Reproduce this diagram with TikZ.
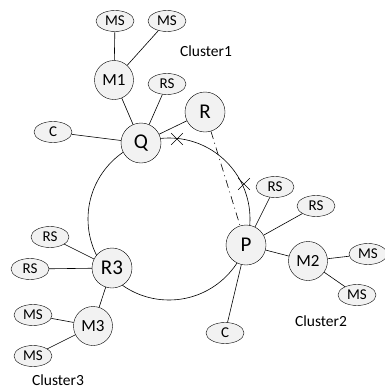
\documentclass[tikz,border=0pt]{standalone}
\usepackage{fontspec}
\setmainfont{Carlito}
\usetikzlibrary{shapes.geometric,shapes.misc}
\begin{document}
\begin{tikzpicture}[x=1pt,y=-1pt,
  big/.style={circle,draw,fill=black!5,minimum size=40pt,inner sep=0pt,font=\fontsize{21}{21}\selectfont},
  mid/.style={circle,draw,fill=black!5,minimum size=39pt,inner sep=0pt,font=\fontsize{17}{17}\selectfont},
  small/.style={ellipse,draw,fill=black!5,minimum width=38pt,minimum height=21pt,inner sep=0pt,font=\fontsize{15}{15}\selectfont},
  lbl/.style={font=\fontsize{15.5}{15.5}\selectfont},
  xmark/.style={cross out,draw,minimum size=11pt,inner sep=0pt,line width=0.6pt},
  link/.style={draw,line width=0.6pt}]
\useasboundingbox (0,0) rectangle (384,391);
\fill[white] (0,0) rectangle (384,391);
\draw[line width=0.6pt] (169,219) circle (81pt);
% cluster 1
\node[small] (ms1) at (115,21) {MS};
\node[small] (ms2) at (167,21) {MS};
\node[lbl] (c1) at (206,51) {Cluster1};
\node[mid] (m1) at (114,80) {M1};
\node[small] (rsq) at (167,84) {RS};
\node[small] (cq) at (53,132) {C};
\node[big] (q) at (141,143) {Q};
\node[big] (r) at (205,112) {R};
% cluster 2
\node[small] (rsp1) at (275,187) {RS};
\node[small] (rsp2) at (316,206) {RS};
\node[big] (p) at (246,245) {P};
\node[mid] (m2) at (308,261) {M2};
\node[small] (ms3) at (368,254) {MS};
\node[small] (ms4) at (357,295) {MS};
\node[lbl] (c2) at (321,321) {Cluster2};
\node[small] (cp) at (225,333) {C};
% cluster 3
\node[big] (r3) at (112,268) {R3};
\node[small] (rs3a) at (50,237) {RS};
\node[small] (rs3b) at (30,269) {RS};
\node[mid] (m3) at (93,326) {M3};
\node[small] (ms5) at (33,315) {MS};
\node[small] (ms6) at (33,356) {MS};
\node[lbl] (c3) at (58,380) {Cluster3};
% crosses
\node[xmark] (x1) at (177,139) {};
\node[xmark] (x2) at (244,184) {};
% connectors
\draw[link] (m1) -- (ms1);
\draw[link] (m1) -- (ms2);
\draw[link] (q) -- (m1);
\draw[link] (q) -- (rsq);
\draw[link] (q) -- (cq);
\draw[link] (q) -- (r);
\draw[link,dash pattern=on 8pt off 4pt on 1pt off 4pt] (r) -- (p);
\draw[link] (p) -- (rsp1);
\draw[link] (p) -- (rsp2);
\draw[link] (p) -- (m2);
\draw[link] (p) -- (cp);
\draw[link] (m2) -- (ms3);
\draw[link] (m2) -- (ms4);
\draw[link] (r3) -- (rs3a);
\draw[link] (r3) -- (rs3b);
\draw[link] (r3) -- (m3);
\draw[link] (m3) -- (ms5);
\draw[link] (m3) -- (ms6);
\end{tikzpicture}
\end{document}
